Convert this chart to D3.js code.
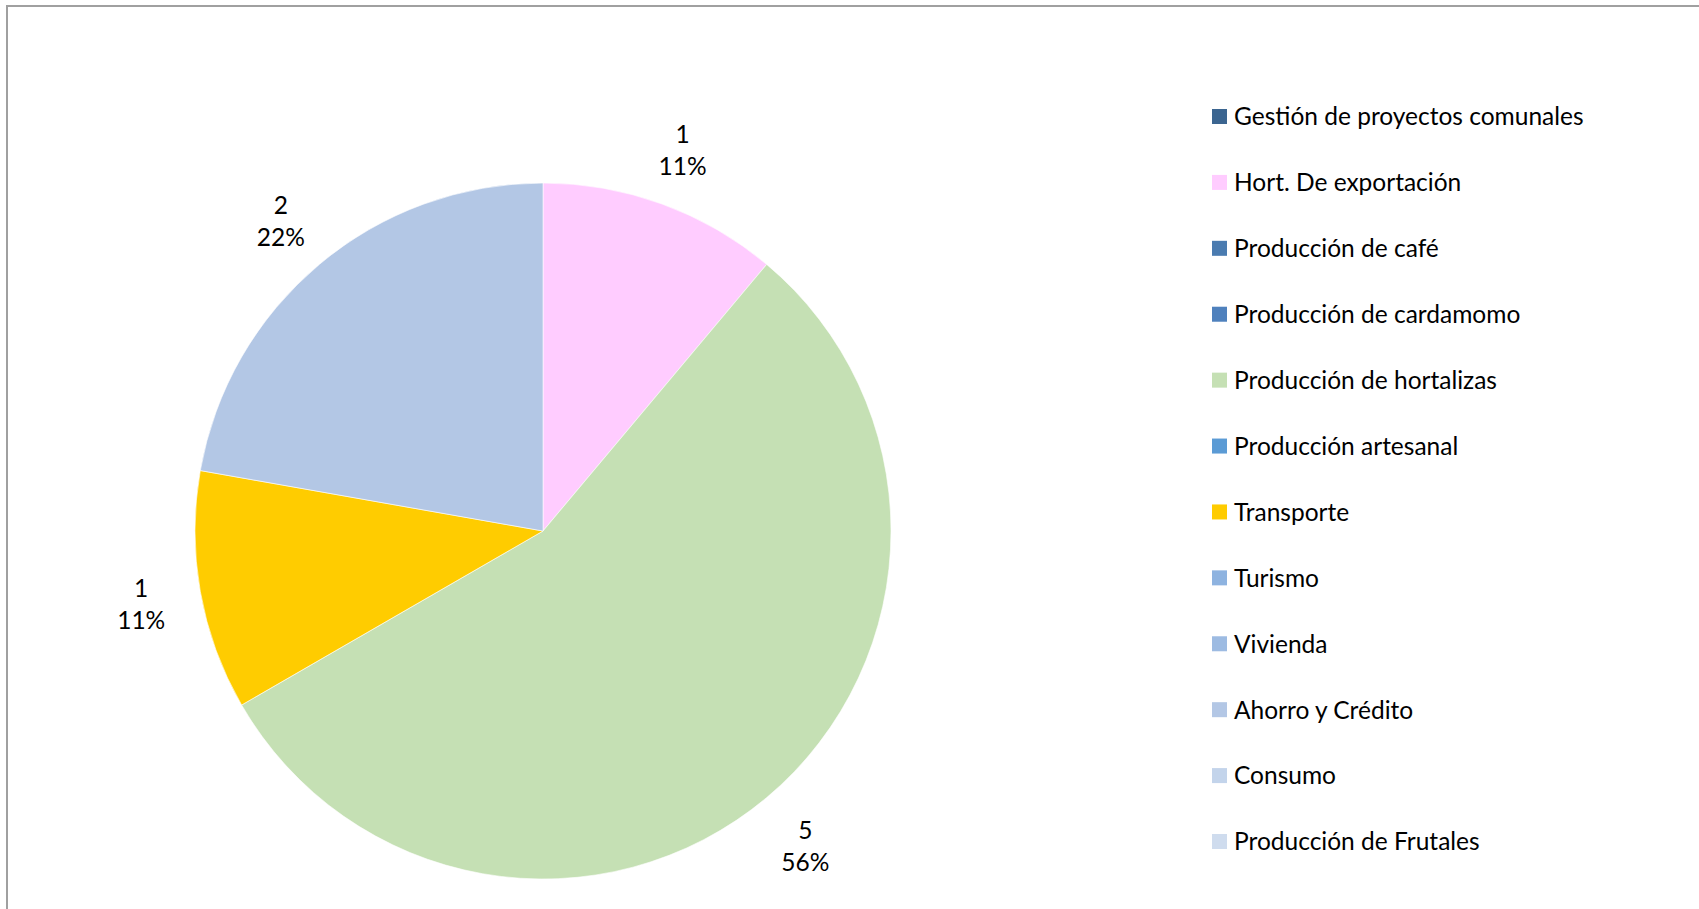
<!DOCTYPE html>
<html>
<head>
<meta charset="utf-8">
<script src="https://cdn.jsdelivr.net/npm/d3@7"></script>
<style>
body {margin: 0; background: #fff;}
text {font-family: Lato, 'Open Sans', sans-serif; font-size: 24.5px; fill: #000;}
</style>
</head>
<body>
<script>
// categories as in the legend (also the slice order)
var categories = ['Gestión de proyectos comunales', 'Hort. De exportación', 'Producción de café',
  'Producción de cardamomo', 'Producción de hortalizas', 'Producción artesanal', 'Transporte',
  'Turismo', 'Vivienda', 'Ahorro y Crédito', 'Consumo', 'Producción de Frutales'];
var values = [0, 1, 0, 0, 5, 0, 1, 0, 0, 2, 0, 0];
var colors = ['#3b6590', '#ffccff', '#4a7bb0', '#4f81bd', '#c5e0b4', '#5b9bd5', '#ffcc00',
  '#8eb3e0', '#9dbbe2', '#b3c7e5', '#c3d4eb', '#cfdcee'];

var W = 1699, H = 909;
var cx = 543, cy = 531, r = 348;

var svg = d3.select('body').append('svg')
  .attr('width', W)
  .attr('height', H);

// chart frame
svg.append('rect')
  .attr('x', 7).attr('y', 6)
  .attr('width', W).attr('height', H)
  .attr('fill', 'none')
  .attr('stroke', '#a0a0a0')
  .attr('stroke-width', 2);

var data = categories.map(function(c, i) { return {name: c, value: values[i], color: colors[i]}; });
var total = d3.sum(values);

var pie = d3.pie().sort(null).value(function(d) { return d.value; });
var arcs = pie(data);
var arc = d3.arc().innerRadius(0).outerRadius(r);
var labelArc = d3.arc().innerRadius(r + 60).outerRadius(r + 60);

var g = svg.append('g').attr('transform', 'translate(' + cx + ',' + cy + ')');

g.selectAll('path')
  .data(arcs.filter(function(d) { return d.value > 0; }))
  .enter()
  .append('path')
  .attr('d', arc)
  .attr('fill', function(d) { return d.data.color; })
  .attr('stroke', '#fff')
  .attr('stroke-width', 0.6);

// data labels: value and percent
var lab = g.selectAll('.lab')
  .data(arcs.filter(function(d) { return d.value > 0; }))
  .enter()
  .append('text')
  .attr('class', 'lab')
  .attr('text-anchor', 'middle')
  .attr('transform', function(d) { return 'translate(' + labelArc.centroid(d) + ')'; });

lab.append('tspan')
  .attr('x', 0).attr('dy', '-0.2em')
  .text(function(d) { return d.value; });
lab.append('tspan')
  .attr('x', 0).attr('dy', 32)
  .text(function(d) { return d3.format('.0%')(d.value / total); });

// legend
var ly = d3.scalePoint().domain(categories).range([116.5, 841.5]);

var leg = svg.append('g').selectAll('g')
  .data(data)
  .enter()
  .append('g')
  .attr('transform', function(d) { return 'translate(1212,' + ly(d.name) + ')'; });

leg.append('rect')
  .attr('x', 0).attr('y', -7.5)
  .attr('width', 15).attr('height', 15)
  .attr('fill', function(d) { return d.color; });

leg.append('text')
  .attr('x', 22)
  .attr('dy', '0.36em')
  .text(function(d) { return d.name; });
</script>
</body>
</html>
